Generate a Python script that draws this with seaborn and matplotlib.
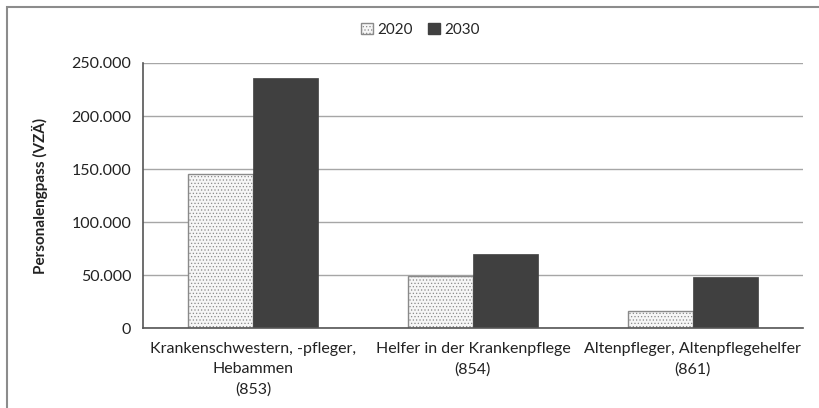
import matplotlib
matplotlib.use("Agg")
import matplotlib.pyplot as plt
import matplotlib.ticker as mticker
from matplotlib.patches import Rectangle, Patch
import seaborn as sns
import pandas as pd

categories = ["Krankenschwestern, -pfleger,\nHebammen\n(853)",
              "Helfer in der Krankenpflege\n(854)",
              "Altenpfleger, Altenpflegehelfer\n(861)"]
years = ["2020", "2030"]
values_2020 = [145000, 49000, 16500]
values_2030 = [236000, 69500, 48000]
y_label = "Personalengpass (VZÄ)"

df = pd.DataFrame({
    "Beruf": categories * 2,
    "Jahr": [years[0]] * 3 + [years[1]] * 3,
    "Wert": values_2020 + values_2030,
})

sns.set_style("white")
plt.rcParams['font.family'] = ['Lato', 'DejaVu Sans']
plt.rcParams['hatch.linewidth'] = 0.5

fig = plt.figure(figsize=(8.2, 4.08), dpi=100)
ax = fig.add_axes([0.1744, 0.196, 0.8046, 0.6496])

palette = {"2020": "#f6f6f6", "2030": "#404040"}
sns.barplot(data=df, x="Beruf", y="Wert", hue="Jahr", palette=palette,
            width=0.59, gap=0, ax=ax, legend=False, saturation=1)

for i, p in enumerate(ax.patches):
    if i < 3:
        p.set_edgecolor("#8a8a8a")
        p.set_hatch(".....")
        p.set_linewidth(1.0)
    else:
        p.set_edgecolor("#404040")
        p.set_linewidth(0.5)

ax.set_ylim(0, 250000)
ax.set_xlim(-0.5, 2.5)
ax.yaxis.set_major_locator(mticker.MultipleLocator(50000))
ax.yaxis.set_minor_locator(mticker.MultipleLocator(25000))
ax.yaxis.set_major_formatter(mticker.FuncFormatter(
    lambda v, _: f"{int(v):,}".replace(",", ".")))
ax.grid(axis="y", color="#a6a6a6", linewidth=1.0)
ax.set_axisbelow(True)

for s in ["top", "right"]:
    ax.spines[s].set_visible(False)
for s in ["left", "bottom"]:
    ax.spines[s].set_color("#555555")
    ax.spines[s].set_linewidth(1.2)

ax.tick_params(axis="y", which="both", direction="inout", length=7,
               color="#555555", width=1.2, labelsize=11.5, labelcolor="#222222", pad=5)
ax.tick_params(axis="y", which="minor", length=5)
ax.set_xticks([0.5, 1.5], minor=True)
ax.tick_params(axis="x", which="major", length=0, labelsize=11.5,
               labelcolor="#222222", pad=10)
ax.tick_params(axis="x", which="minor", direction="out", length=5,
               color="#555555", width=1.2)
for lbl in ax.get_xticklabels():
    lbl.set_linespacing(1.55)

ax.set_xlabel("")
ax.set_ylabel(y_label, fontsize=11, fontweight="bold", color="#222222", labelpad=17)

handles = [Patch(facecolor="#f6f6f6", edgecolor="#8a8a8a", hatch="....."),
           Patch(facecolor="#404040", edgecolor="#404040")]
fig.legend(handles, years, loc="center", bbox_to_anchor=(0.513, 0.926), ncol=2,
           frameon=False, fontsize=11, handlelength=0.75, handleheight=0.75,
           handletextpad=0.3, columnspacing=1.0)

fig.patches.append(Rectangle((0.0085, -0.1), 1.2, 1.083, transform=fig.transFigure,
                             fill=False, edgecolor="#8c8c8c", linewidth=1.5))

fig.savefig("out.png", dpi=100, facecolor="white")
